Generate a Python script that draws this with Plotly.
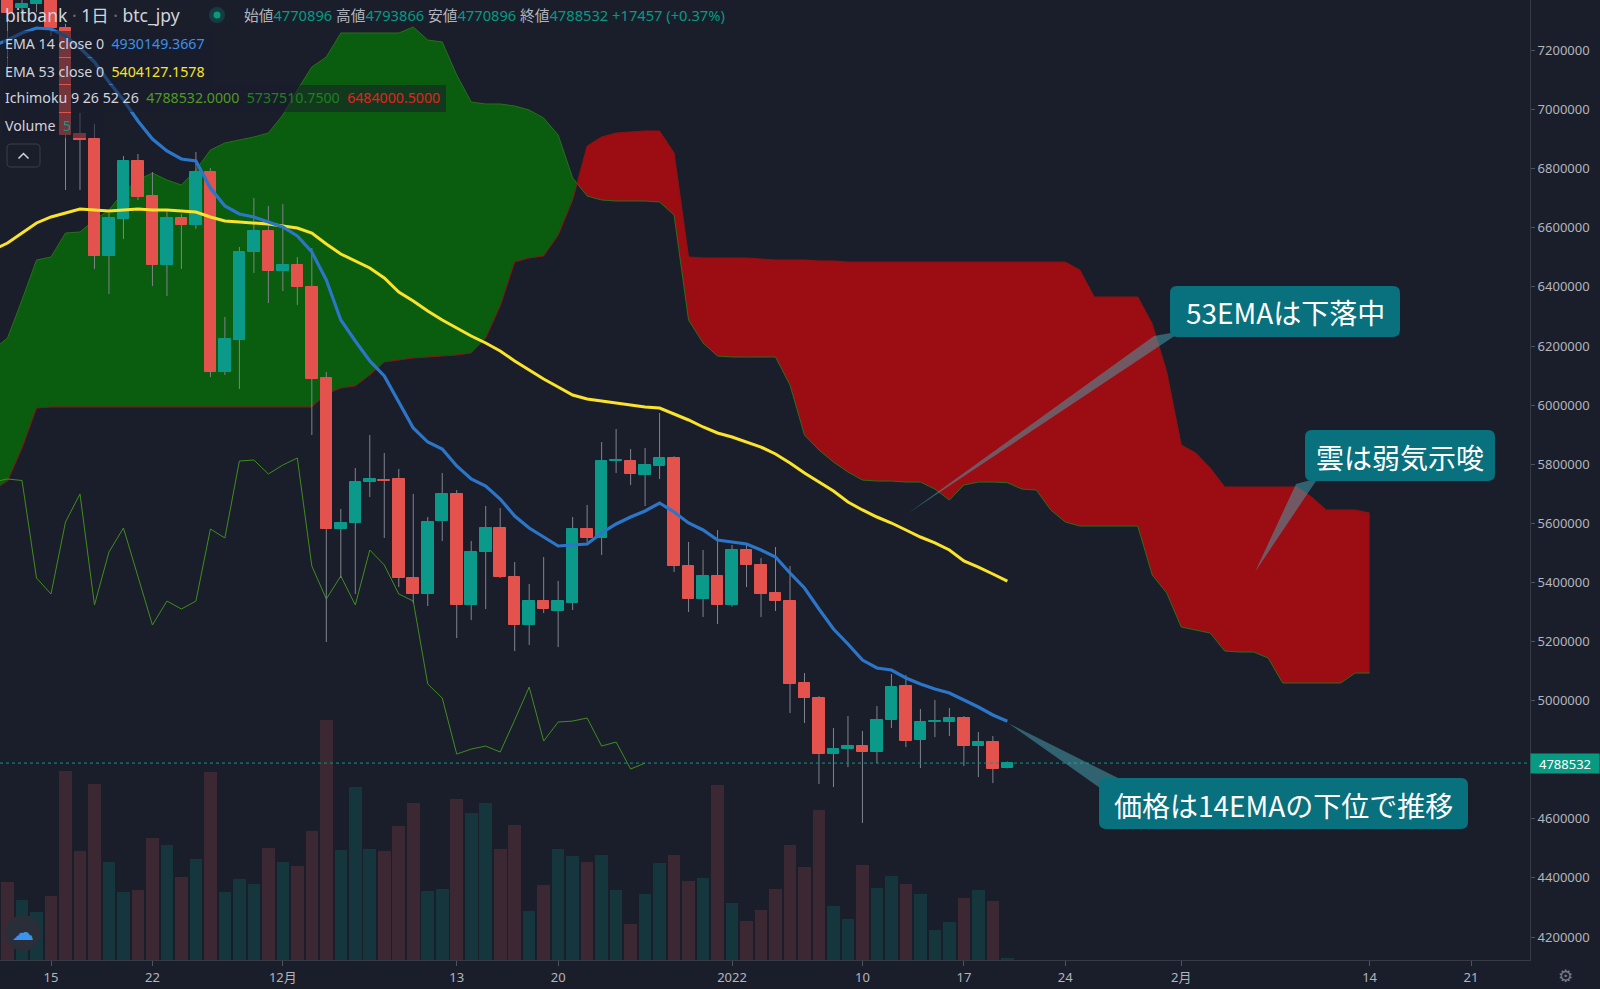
import plotly.graph_objects as go
import pandas as pd

# ---------------- data ----------------
candle_start, candle_end = "2021-11-12", "2022-01-20"

opens = [7420000, 7343800, 7357000, 7450000, 7276100, 6917400, 6900500, 6504600, 6629800, 6826100,
         6707600, 6474100, 6633200, 6609500, 6788800, 6112000, 6220300, 6518100, 6589200,
         6453800, 6474100, 6399700, 6091700, 5580700, 5601000, 5739800, 5748200, 5749900, 5414900,
         5360700, 5607800, 5699300, 5323500, 5502900, 5584100, 5418300, 5255700, 5336900, 5303100,
         5330300, 5580700, 5550300, 5810700, 5810700, 5763500, 5793900, 5821000, 5455500, 5343700,
         5421700,
         5323500, 5509600, 5458900, 5364100, 5336900, 5059400, 5008600, 4819100, 4836000, 4846200,
         4825900, 4934200, 5049300, 4866500, 4927400, 4927400, 4941000, 4846200, 4859700, 4770896]
highs = [7480000, 7390000, 7420000, 7480000, 7290000, 6988500, 6951300, 6650100, 6843000, 6849800,
         6788800, 6660200, 6646700, 6856500, 6802400, 6298100, 6535000, 6700800, 6673800,
         6680500, 6501200, 6531600, 6112000, 5648400, 5787100, 5898700, 5837900, 5783800, 5699300,
         5621300, 5770300, 5712800, 5540200, 5658500, 5651700, 5469000, 5394500, 5485900, 5404700,
         5621300, 5661900, 5875000, 5919000, 5851400, 5854800, 5973300, 5827000, 5536800, 5509600,
         5577300,
         5526600, 5533400, 5482500, 5519800, 5455500, 5093200, 5015000, 4907100, 4947700, 4897000,
         4981600, 5089900, 5086500, 4971500, 5002000, 4974900, 4947700, 4893600, 4880000, 4793866]
lows = [7144000, 7300000, 7330000, 7250000, 6727900, 6727900, 6460600, 6376000, 6562100, 6694000,
        6403100, 6369200, 6460600, 6595900, 6095100, 6101800, 6054500, 6447100, 6345500,
        6386200, 6338800, 5898700, 5198100, 5414900, 5360700, 5689100, 5550300, 5384400, 5330300,
        5320100, 5540200, 5211600, 5272600, 5309900, 5414900, 5167800, 5188100, 5296300, 5181400,
        5306500, 5536800, 5492700, 5770300, 5729700, 5658500, 5749900, 5435200, 5299700, 5282900,
        5259100,
        5318000, 5384400, 5282900, 5303100, 4958000, 4924200, 4717600, 4707400, 4775100, 4585600,
        4788700, 4907100, 4842800, 4771800, 4876600, 4880000, 4778500, 4741300, 4721000, 4770896]
closes = [7326900, 7357400, 7385000, 7276100, 6914000, 6897100, 6504600, 6633200, 6826100, 6704300,
          6474100, 6633200, 6609500, 6788800, 6112000, 6223700, 6518100, 6589200, 6453800,
          6474100, 6399700, 6088300, 5580700, 5601000, 5739800, 5749900, 5744800, 5414900, 5360700,
          5604400, 5699300, 5323500, 5502900, 5584100, 5418300, 5255700, 5336900, 5309900, 5336900,
          5580700, 5550300, 5810700, 5814100, 5766900, 5797300, 5821000, 5455500, 5343700, 5421700,
          5323500,
          5509600, 5458900, 5360700, 5336900, 5056000, 5008600, 4819100, 4836000, 4846200, 4825900,
          4934200, 5045900, 4863100, 4927400, 4930800, 4941000, 4846200, 4859700, 4768500, 4788532]
volumes = [312, 240, 192, 256, 756, 436, 704, 392, 272, 280, 488, 460, 332, 404, 752, 272, 324, 304, 448,
           392, 376, 516, 960, 440, 692, 444, 436, 536, 628, 276, 284, 644, 588, 628, 444, 540, 196, 300,
           444, 416, 392, 420, 280, 144, 264, 388, 420, 316, 328, 700,
           228, 156, 200, 284, 460, 372, 600, 216, 164, 380, 288, 336, 304, 264, 120, 152, 248, 280, 236, 5]

ema_start = "2021-11-11"
ema14 = [7215200, 7235500, 7259200, 7276100, 7272800, 7249100, 7208500, 7161100, 7093400, 7032500,
         6961400, 6900500, 6859900, 6832800, 6826100, 6734700, 6673800, 6646700, 6636600, 6619500,
         6602700, 6572300, 6518100, 6423400, 6288000, 6216900, 6149300, 6098500, 6010500, 5922500,
         5875000, 5851400, 5793900, 5749900, 5726200, 5682200, 5624700, 5584100, 5553600, 5523200,
         5526600, 5530000, 5567200, 5597700, 5621300, 5641600, 5668700, 5638300, 5601000, 5577300,
         5543500,
         5536800, 5530000, 5509600, 5485900, 5431800, 5381000, 5309900, 5242200, 5191500, 5137300,
         5110300, 5103500, 5076400, 5056000, 5039100, 5025600, 5002000, 4978300, 4951200, 4930149]
ema53 = [6524900, 6548600, 6582400, 6616300, 6636600, 6650100, 6663600, 6660200, 6656900, 6660200,
         6663600, 6660200, 6660200, 6656900, 6653500, 6636600, 6623100, 6619500, 6616300, 6612900,
         6606100, 6599300, 6582400, 6545200, 6511400, 6487700, 6464000, 6430100, 6382800, 6352300,
         6318500, 6288000, 6261000, 6233900, 6210200, 6183100, 6149300, 6118800, 6088300, 6061300,
         6034200, 6020700, 6013900, 6007100, 6000400, 5993600, 5990200, 5969900, 5949600, 5925900,
         5905600,
         5892100, 5875000, 5858100, 5834500, 5804000, 5770300, 5739800, 5709400, 5672100, 5645100,
         5621300, 5601000, 5577300, 5553600, 5533400, 5509600, 5472400, 5452000, 5428400, 5404127]

cloud_start, cloud_end = "2021-11-11", "2022-02-14"
span_a = [6186500, 6227100, 6355700, 6491000, 6501200, 6582400, 6585800, 6626400, 6660200, 6721200,
          6761800, 6785400, 6761800, 6744800, 6795600, 6863300, 6887000, 6897100, 6907300, 6920800,
          6981700, 7066300, 7144200, 7177900, 7259200, 7259200, 7259200, 7259200, 7259200, 7279500,
          7235500, 7228800, 7117100, 7025700, 7019000, 7019000, 7012200, 6998600, 6971600, 6914000,
          6768500, 6707600, 6694100, 6690700, 6690700, 6690700, 6687300, 6643300, 6288000, 6210200,
          6166200,
          6162800, 6162800, 6162800, 6162800, 6068100, 5898700, 5848000, 5807300, 5773500, 5746400,
          5743000, 5743000, 5739600, 5739600, 5715900, 5678700, 5729400, 5739600, 5739600, 5737511,
          5715900, 5712700, 5644900, 5604300, 5590800, 5590800, 5590800, 5590800, 5590800, 5425000,
          5364100,
          5249000, 5238900, 5228700, 5167800, 5164400, 5164400, 5144100, 5059500, 5059500, 5059500,
          5059500, 5059500, 5093300, 5093300]
span_b = [5712700, 5743000, 5854800, 5990200, 5993600, 5993600, 5993600, 5993600, 5993600, 5993600,
          5993600, 5993600, 5993600, 5993600, 5993600, 5993600, 5993600, 5993600, 5993600, 5993600,
          5993600, 5993600, 5993600, 6037600, 6057900, 6064700, 6101900, 6145900, 6152700, 6159500,
          6162800, 6166200, 6169600, 6176400, 6227100, 6335400, 6484300, 6497800, 6504600, 6575700,
          6694100, 6876800, 6907300, 6920800, 6924200, 6927600, 6927600, 6853100, 6501200, 6497800,
          6497800,
          6497800, 6497800, 6494400, 6491000, 6491000, 6491000, 6487700, 6487700, 6484000, 6484000,
          6484000, 6484000, 6484000, 6484000, 6484000, 6484000, 6484000, 6484000, 6484000, 6484000,
          6484000, 6484000, 6484000, 6484000, 6457200, 6365800, 6365800, 6365800, 6365800, 6274400,
          6112000,
          5865000, 5837900, 5787100, 5722800, 5722800, 5722800, 5722800, 5722800, 5722800, 5689000,
          5645000, 5645000, 5645000, 5634800]
lag_days = 25

last_price = 4788532
x_tickvals = ["2021-11-15", "2021-11-22", "2021-12-01", "2021-12-13", "2021-12-20", "2022-01-01",
              "2022-01-10", "2022-01-17", "2022-01-24", "2022-02-01", "2022-02-14", "2022-02-21"]
x_ticktext = ["15", "22", "12月", "13", "20", "2022", "10", "17", "24", "2月", "14", "21"]
# 4800000 is hidden behind the last-price tag in the original
y_tickvals = [4200000, 4400000, 4600000, 5000000, 5200000, 5400000, 5600000, 5800000, 6000000,
              6200000, 6400000, 6600000, 6800000, 7000000, 7200000]

# ---------------- styling / geometry ----------------
BG = "#1a1e2b"
UP, DOWN = "#0b9a8a", "#e3524d"
VOL_UP, VOL_DOWN = "#15363c", "#3c2833"
WICK = "#80838c"
TXT = "#d1d4dc"
GRAY = "#b2b5be"
TEAL = "#089981"
PLOT_W, PLOT_H = 1530, 960
Y_RANGE = [4122161, 7370897]


def px(x):
    return x / PLOT_W


def py(y):
    return 1 - y / PLOT_H


dates = pd.date_range(candle_start, candle_end, freq="D")
ema_dates = pd.date_range(ema_start, candle_end, freq="D")
cloud_dates = pd.date_range(cloud_start, cloud_end, freq="D")
DAY_MS = 86400000

fig = go.Figure()

# ---- Ichimoku cloud (split where the spans cross) -> main price axis y ----
def cloud_runs(xs, a, b):
    runs = []
    rx, ra, rb = [], [], []
    sign = None
    for i in range(len(xs)):
        s = a[i] >= b[i]
        if sign is None:
            sign = s
        if s != sign:
            d0 = a[i - 1] - b[i - 1]
            d1 = a[i] - b[i]
            t = d0 / (d0 - d1)
            xc = xs[i - 1] + (xs[i] - xs[i - 1]) * t
            yc = a[i - 1] + (a[i] - a[i - 1]) * t
            rx.append(xc); ra.append(yc); rb.append(yc)
            runs.append((sign, rx, ra, rb))
            rx, ra, rb = [xc], [yc], [yc]
            sign = s
        rx.append(xs[i]); ra.append(a[i]); rb.append(b[i])
    runs.append((sign, rx, ra, rb))
    return runs


for sign, rx, ra, rb in cloud_runs(list(cloud_dates), span_a, span_b):
    fig.add_trace(go.Scatter(
        x=rx + rx[::-1], y=ra + rb[::-1], mode="lines", fill="toself",
        fillcolor="#0a5c0f" if sign else "#9c0c13", line=dict(width=0),
        hoverinfo="skip", showlegend=False))

fig.add_trace(go.Scatter(x=cloud_dates, y=span_a, mode="lines",
                         line=dict(color="#2b6e1c", width=1), hoverinfo="skip", showlegend=False))
fig.add_trace(go.Scatter(x=cloud_dates, y=span_b, mode="lines",
                         line=dict(color="#8a1512", width=1), hoverinfo="skip", showlegend=False))

# ---- lagging span (close shifted back) ----
fig.add_trace(go.Scatter(x=dates - pd.Timedelta(days=lag_days), y=closes, mode="lines",
                         line=dict(color="#3f8d1e", width=1), hoverinfo="skip", showlegend=False))

# ---- candle wicks (overlay y2) ----
wx, wy = [], []
for d, h, l in zip(dates, highs, lows):
    wx += [d, d, None]
    wy += [l, h, None]
fig.add_trace(go.Scatter(x=wx, y=wy, mode="lines", line=dict(color=WICK, width=1), yaxis="y2",
                         hoverinfo="skip", showlegend=False))

# ---- candle bodies + EMAs (overlay y3) ----
body_base = [min(o, c) for o, c in zip(opens, closes)]
body_h = [abs(c - o) for o, c in zip(opens, closes)]
body_col = [UP if c >= o else DOWN for o, c in zip(opens, closes)]
fig.add_trace(go.Bar(x=dates, y=body_h, base=body_base, width=0.8 * DAY_MS, yaxis="y3",
                     marker=dict(color=body_col, line=dict(color=body_col, width=1)),
                     hoverinfo="skip", showlegend=False))
fig.add_trace(go.Scatter(x=ema_dates, y=ema53, mode="lines", line=dict(color="#fbe32c", width=3),
                         yaxis="y3", hoverinfo="skip", showlegend=False))
fig.add_trace(go.Scatter(x=ema_dates, y=ema14, mode="lines", line=dict(color="#2c76c9", width=3.2),
                         yaxis="y3", hoverinfo="skip", showlegend=False))

# ---- volume (overlay y4) ----
vol_col = [VOL_UP if c >= o else VOL_DOWN for o, c in zip(opens, closes)]
fig.add_trace(go.Bar(x=dates, y=volumes, yaxis="y4", width=0.87 * DAY_MS,
                     marker=dict(color=vol_col, line=dict(width=0)),
                     hoverinfo="skip", showlegend=False))

# ---------------- shapes & annotations ----------------
shapes = []
annotations = []


def rrect(x0, y0, x1, y1, r):
    pts = [("M", x0 + r, y0), ("L", x1 - r, y0), ("Q", x1, y0, x1, y0 + r), ("L", x1, y1 - r),
           ("Q", x1, y1, x1 - r, y1), ("L", x0 + r, y1), ("Q", x0, y1, x0, y1 - r),
           ("L", x0, y0 + r), ("Q", x0, y0, x0 + r, y0)]
    s = ""
    for p in pts:
        cmd, vals = p[0], p[1:]
        coords = []
        for i in range(0, len(vals), 2):
            coords.append(f"{px(vals[i]):.5f},{py(vals[i + 1]):.5f}")
        s += cmd + " " + " ".join(coords) + " "
    return s + "Z"


def tri(p1, p2, p3):
    return "M {} L {} L {} Z".format(*[f"{px(x):.5f},{py(y):.5f}" for x, y in (p1, p2, p3)])


# last price dotted line
shapes.append(dict(type="line", xref="paper", yref="y", x0=0, x1=1, y0=last_price, y1=last_price,
                   line=dict(color=TEAL, width=1, dash="dot"), layer="above"))

# legend backgrounds
for (x0, y0, x1, y1) in [(3, 31, 212, 57), (3, 58, 212, 84), (3, 85, 446, 112), (3, 113, 104, 138)]:
    shapes.append(dict(type="rect", xref="paper", yref="paper", x0=px(x0), x1=px(x1), y0=py(y1), y1=py(y0),
                       fillcolor="rgba(26,30,43,0.55)", line=dict(width=0), layer="above"))

# collapse button
shapes.append(dict(type="path", xref="paper", yref="paper", path=rrect(7, 144, 40, 167, 4),
                   line=dict(color="#3a3e4a", width=1), fillcolor="rgba(0,0,0,0)", layer="above"))
shapes.append(dict(type="path", xref="paper", yref="paper",
                   path="M {:.5f},{:.5f} L {:.5f},{:.5f} L {:.5f},{:.5f}".format(px(18.5), py(158.5), px(23.5), py(153.5), px(28.5), py(158.5)),
                   line=dict(color=TXT, width=1.5), layer="above"))

# header status circle
shapes.append(dict(type="circle", xref="paper", yref="paper", x0=px(209), x1=px(225), y0=py(23), y1=py(7),
                   fillcolor="rgba(8,153,129,0.25)", line=dict(width=0), layer="above"))
shapes.append(dict(type="circle", xref="paper", yref="paper", x0=px(213.5), x1=px(220.5), y0=py(18.5), y1=py(11.5),
                   fillcolor=TEAL, line=dict(width=0), layer="above"))

# logo bottom-left
shapes.append(dict(type="circle", xref="paper", yref="paper", x0=px(5), x1=px(41), y0=py(951), y1=py(915),
                   fillcolor="#2a2e39", line=dict(width=0), layer="above"))

# callouts
CALLOUT = "#09707e"
TAIL = "rgba(70,165,180,0.5)"
callouts = [
    ("53EMAは下落中", (1170, 286, 1400, 337), ((907, 514), (1154, 336), (1182, 331))),
    ("雲は弱気示唆", (1305, 430, 1495, 481), ((1255, 572), (1296, 484), (1318, 478))),
    ("価格は14EMAの下位で推移", (1099, 778, 1468, 829), ((1008, 723), (1100, 788), (1120, 779))),
]
for text, (x0, y0, x1, y1), (t1, t2, t3) in callouts:
    shapes.append(dict(type="path", xref="paper", yref="paper", path=tri(t1, t2, t3),
                       fillcolor=TAIL, line=dict(width=0), layer="above"))
    shapes.append(dict(type="path", xref="paper", yref="paper", path=rrect(x0, y0, x1, y1, 7),
                       fillcolor=CALLOUT, line=dict(width=0), layer="above"))
    annotations.append(dict(xref="paper", yref="paper", x=px((x0 + x1) / 2), y=py((y0 + y1) / 2 + 1),
                            xanchor="center", yanchor="middle", showarrow=False, text=text,
                            font=dict(family="Noto Sans CJK JP", size=28, color="#ffffff")))


def label(text, x, y, size, color=TXT, family="Noto Sans, Noto Sans CJK JP"):
    annotations.append(dict(xref="paper", yref="paper", x=px(x), y=py(y), xanchor="left", yanchor="middle",
                            showarrow=False, text=text, font=dict(family=family, size=size, color=color)))


def c(t, col):
    return f"<span style='color:{col}'>{t}</span>"


NB = "\u00a0"
label(f"bitbank {c('·', '#6a6d78')} 1日 {c('·', '#6a6d78')} btc_jpy", 3, 15, 17.5)
label("始値" + c("4770896", TEAL) + NB + "高値" + c("4793866", TEAL) + NB + "安値" + c("4770896", TEAL)
      + NB + "終値" + c("4788532", TEAL) + NB + c("+17457 (+0.37%)", TEAL), 242, 15, 14.7, GRAY)
label("EMA 14 close 0" + NB * 2 + c("4930149.3667", "#3d8fe3"), 3, 44, 14.2)
label("EMA 53 close 0" + NB * 2 + c("5404127.1578", "#f7e32b"), 3, 71, 14.2)
label("Ichimoku 9 26 52 26" + NB * 2 + c("4788532.0000", "#4f9a1f") + NB * 2 + c("5737510.7500", "#1f801d")
      + NB * 2 + c("6484000.5000", "#e3221c"), 3, 98, 14.2)
label("Volume" + NB * 2 + c("5", TEAL), 3, 125, 14.2)

# logo glyph & gear
annotations.append(dict(xref="paper", yref="paper", x=px(23), y=py(932), xanchor="center", yanchor="middle",
                        showarrow=False, text="☁", font=dict(family="DejaVu Sans", size=22, color="#3b93ee")))
annotations.append(dict(xref="paper", yref="paper", x=px(1566), y=py(976), xanchor="center", yanchor="middle",
                        showarrow=False, text="⚙", font=dict(family="DejaVu Sans", size=17, color="#787b86")))

# last price tag on the axis
annotations.append(dict(xref="paper", yref="y", x=1, y=last_price, xanchor="left", yanchor="middle",
                        showarrow=False, text=str(last_price), bgcolor=TEAL, width=64, height=15,
                        borderpad=2, align="center",
                        font=dict(family="Noto Sans", size=13, color="#ffffff")))

hidden_y = dict(overlaying="y", range=Y_RANGE, visible=False, fixedrange=True)
fig.update_layout(
    width=1600, height=989,
    margin=dict(l=0, r=1600 - PLOT_W, t=0, b=989 - PLOT_H),
    paper_bgcolor=BG, plot_bgcolor=BG,
    barmode="overlay", bargap=0,
    showlegend=False,
    hovermode=False,
    shapes=shapes,
    annotations=annotations,
    xaxis=dict(type="date", range=["2021-11-11 11:31", "2022-02-25 01:40"],
               tickvals=x_tickvals, ticktext=x_ticktext, showgrid=False, zeroline=False,
               ticks="outside", ticklen=5, tickcolor="#50535e",
               tickfont=dict(family="Noto Sans, Noto Sans CJK JP", size=13, color=GRAY),
               showline=True, linecolor="#363a45", linewidth=1, fixedrange=True),
    yaxis=dict(side="right", range=Y_RANGE, tickvals=y_tickvals,
               ticktext=[str(v) for v in y_tickvals], showgrid=False, zeroline=False,
               ticks="outside", ticklen=4, tickcolor="#50535e",
               tickfont=dict(family="Noto Sans", size=13, color=GRAY),
               showline=True, linecolor="#363a45", linewidth=1, fixedrange=True),
    yaxis2=hidden_y,
    yaxis3=hidden_y,
    yaxis4=dict(overlaying="y", range=[0, 3840], visible=False, fixedrange=True),
)

fig.write_html("out.html", config={"displayModeBar": False},
               post_script="document.body.style.margin='0';document.body.style.overflow='hidden';")
